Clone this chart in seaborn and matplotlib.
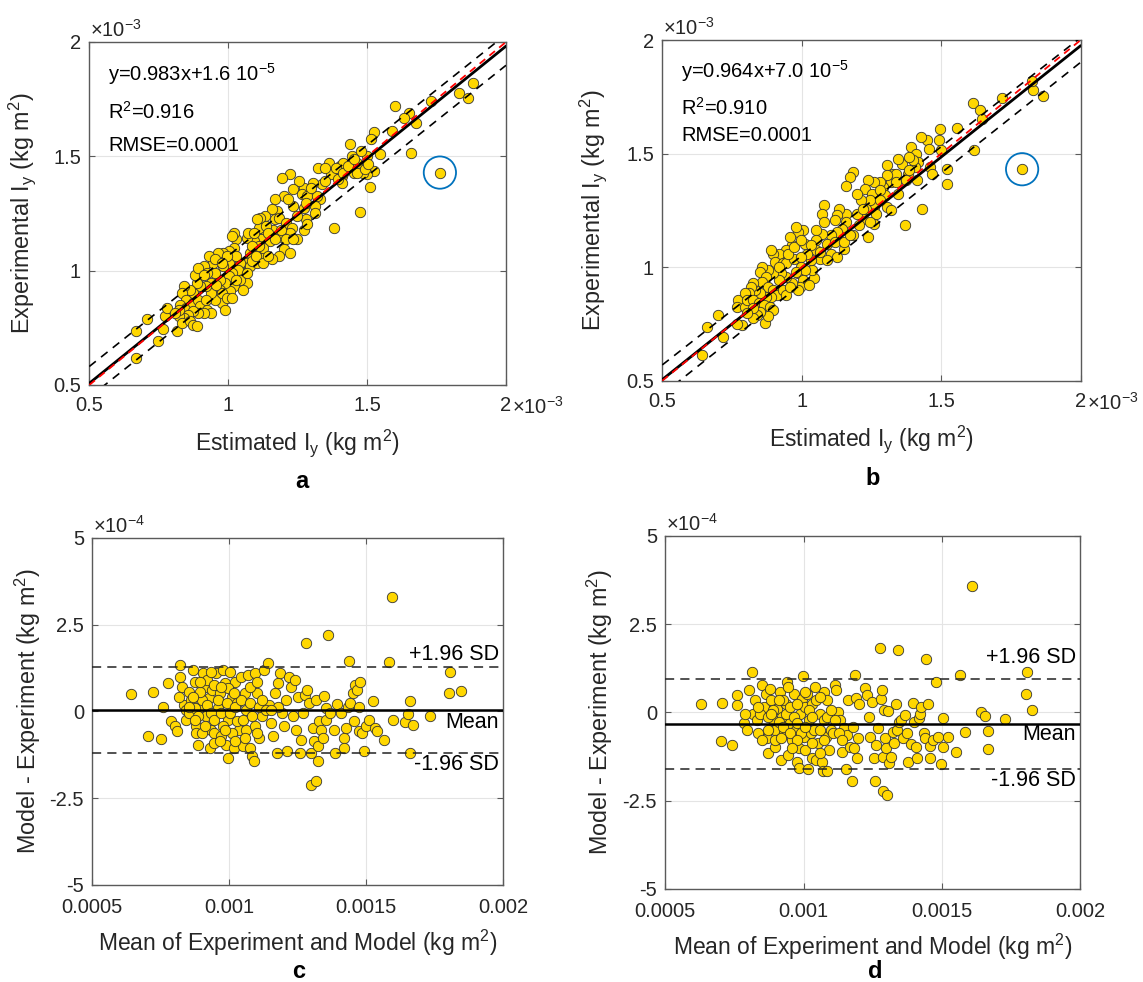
import numpy as np
import pandas as pd
import matplotlib
matplotlib.use("Agg")
import matplotlib.pyplot as plt
import seaborn as sns

sns.set_theme(style="white")
plt.rcParams["font.family"] = ["Liberation Sans", "DejaVu Sans"]
plt.rcParams["mathtext.fontset"] = "custom"
plt.rcParams["mathtext.rm"] = "Liberation Sans"
plt.rcParams["mathtext.it"] = "Liberation Sans:italic"
plt.rcParams["mathtext.bf"] = "Liberation Sans:bold"

# ---------------- data (units: 1e-3 kg m^2 for Iy, 1e-4 for differences) -------------
a_est = [0.667,0.667,0.709,0.748,0.764,0.773,0.779,0.815,1.880,1.832,
1.865,1.730,1.676,1.652,1.633,1.601,1.588,1.659,1.762,1.524,
1.545,1.513,1.524,1.511,1.498,1.476,1.498,1.440,1.446,1.465,
1.478,1.452,1.484,1.382,1.363,1.369,1.401,1.408,1.324,1.337,
1.350,1.408,1.414,1.330,1.311,1.305,1.273,1.254,1.221,1.195,
1.202,1.234,1.266,1.285,1.273,1.311,1.279,1.273,1.285,1.234,
1.215,1.176,1.157,1.170,1.182,1.208,1.228,1.247,1.247,1.221,
1.195,1.202,1.221,1.182,1.163,1.131,1.114,1.137,1.118,1.150,
1.111,1.157,1.131,1.105,1.124,1.092,1.067,1.079,1.067,1.054,
1.067,1.079,1.105,1.041,1.028,1.021,1.015,1.021,1.002,0.983,
0.964,1.002,0.983,1.028,1.034,1.015,1.002,1.041,1.021,1.008,
0.989,0.970,0.951,0.944,0.931,0.951,0.912,0.899,0.925,0.938,
0.970,0.964,0.977,0.951,0.938,0.919,0.899,0.886,0.880,0.893,
0.873,0.861,0.841,0.835,0.848,0.828,0.848,0.873,0.893,0.899,
0.919,0.925,0.938,0.912,0.893,0.873,0.854,0.841,0.822,0.835,
0.861,0.873,0.886,0.822,0.809,0.977,0.996,1.015,0.989,0.957,
0.912,0.996,0.977,1.028,1.054,1.067,1.086,1.099,1.124,1.144,
1.111,1.086,1.073,1.092,1.105,1.137,1.144,1.170,1.189,1.208,
1.234,1.170,1.279,1.318,1.298,1.350,1.395,1.388,1.414,1.433,
1.452,1.465,1.491,1.504]
a_exp = [0.738,0.617,0.788,0.692,0.744,0.803,0.837,0.734,1.821,1.778,
1.754,1.744,1.644,1.690,1.668,1.722,1.612,1.514,1.429,1.608,
1.510,1.576,1.437,1.366,1.503,1.258,1.422,1.554,1.502,1.473,
1.524,1.429,1.429,1.188,1.473,1.422,1.459,1.415,1.451,1.378,
1.393,1.385,1.473,1.312,1.283,1.385,1.363,1.393,1.422,1.407,
1.327,1.356,1.334,1.327,1.276,1.254,1.224,1.180,1.202,1.283,
1.312,1.261,1.268,1.224,1.232,1.210,1.188,1.137,1.239,1.166,
1.149,1.093,1.079,1.063,1.180,1.239,1.232,1.166,1.137,1.129,
1.188,1.049,1.063,1.093,1.100,1.129,1.144,1.078,1.034,0.990,
0.946,1.020,1.034,1.034,1.137,1.166,1.151,1.100,1.085,1.078,
1.078,1.034,1.020,1.063,1.005,0.990,0.976,0.961,0.932,0.910,
0.946,0.961,0.990,1.034,1.063,1.049,1.020,0.976,0.990,0.946,
0.917,0.888,0.859,0.873,0.902,0.932,0.932,0.946,0.983,1.012,
0.902,0.917,0.932,0.902,0.873,0.851,0.837,0.859,0.873,0.844,
0.873,0.829,0.815,0.815,0.815,0.822,0.808,0.793,0.800,0.771,
0.778,0.763,0.756,0.829,0.815,0.902,0.880,0.880,0.829,0.939,
0.983,1.063,1.034,0.961,0.917,0.990,1.041,1.063,1.034,1.063,
1.107,1.107,1.166,1.166,1.224,1.195,1.166,1.137,1.180,1.137,
1.137,1.312,1.297,1.327,1.363,1.451,1.400,1.451,1.429,1.459,
1.488,1.429,1.444,1.466]

b_est = [0.642,0.662,0.698,0.718,0.771,0.769,0.785,0.767,0.798,0.869,
1.866,1.830,1.826,1.719,1.613,1.639,1.646,1.619,1.556,1.790,
1.495,1.493,1.500,1.522,1.519,1.432,1.370,1.459,1.448,1.455,
1.426,1.392,1.409,1.418,1.406,1.412,1.382,1.359,1.345,1.346,
1.319,1.305,1.326,1.339,1.305,1.292,1.305,1.319,1.299,1.279,
1.259,1.239,1.225,1.252,1.259,1.265,1.245,1.212,1.199,1.185,
1.172,1.158,1.232,1.219,1.205,1.239,1.259,1.245,1.185,1.152,
1.158,1.158,1.132,1.125,1.118,1.145,1.125,1.105,1.105,1.092,
1.078,1.074,1.078,1.072,1.052,1.052,1.052,1.065,1.045,1.038,
1.032,1.018,1.012,1.005,0.985,0.965,0.958,0.945,0.931,0.918,
0.898,0.891,0.905,0.931,0.945,0.971,0.998,0.998,0.985,1.012,
1.005,0.992,0.985,0.965,0.945,0.925,0.918,0.898,0.878,0.858,
0.851,0.871,0.858,0.878,0.898,0.911,0.891,0.871,0.851,0.831,
0.825,0.818,0.811,0.798,0.805,0.825,0.845,0.865,0.885,0.898,
0.878,0.851,0.838,0.825,0.825,0.805,0.931,0.945,0.958,0.978,
1.025,0.951,0.971,0.918,0.978,0.998,1.032,1.092,1.125,1.065,
1.118,1.152,1.172,1.199,1.219,1.279,1.279,1.339,1.372,1.385,
1.399,1.385,1.466]
b_exp = [0.614,0.738,0.790,0.692,0.856,0.826,0.746,0.750,0.826,0.756,
1.753,1.780,1.821,1.745,1.723,1.690,1.653,1.514,1.614,1.431,
1.608,1.558,1.514,1.434,1.368,1.258,1.185,1.441,1.558,1.521,
1.573,1.529,1.500,1.463,1.441,1.382,1.412,1.456,1.478,1.324,
1.375,1.448,1.412,1.412,1.404,1.353,1.265,1.251,1.317,1.375,
1.375,1.382,1.346,1.324,1.265,1.236,1.295,1.295,1.324,1.419,
1.397,1.356,1.258,1.214,1.185,1.134,1.192,1.199,1.141,1.082,
1.236,1.199,1.258,1.229,1.207,1.170,1.156,1.141,1.060,1.104,
1.273,1.236,1.199,1.148,1.163,1.119,1.075,1.038,0.951,0.987,
1.031,1.060,1.104,1.163,1.156,1.097,1.134,1.075,1.046,1.060,
1.060,1.075,1.024,1.016,1.016,1.038,1.046,1.002,0.973,0.987,
0.943,0.914,0.899,0.929,0.958,0.973,0.943,0.973,0.987,1.002,
0.980,0.958,0.936,0.914,0.899,0.878,0.870,0.870,0.885,0.899,
0.929,0.914,0.885,0.885,0.856,0.856,0.841,0.834,0.826,0.812,
0.783,0.804,0.790,0.775,0.819,0.797,0.899,0.878,0.914,0.980,
0.921,1.060,1.090,1.002,1.178,1.119,1.097,1.031,1.046,1.068,
1.112,1.112,1.141,1.236,1.258,1.295,1.339,1.375,1.382,1.426,
1.470,1.485,1.412]

c_mean_val = [0.642,0.721,0.704,0.750,0.757,0.776,0.786,0.802,0.809,0.822,
0.819,0.828,0.835,0.841,0.854,0.861,0.867,0.874,0.878,0.880,
0.887,0.893,0.906,0.913,0.917,0.926,0.930,0.932,0.939,0.945,
0.952,0.958,0.965,0.971,0.978,0.984,0.987,0.995,0.997,1.004,
1.010,1.017,1.023,1.030,1.036,1.043,1.049,1.056,1.062,1.069,
1.075,1.082,1.089,1.095,1.102,1.108,1.121,1.128,1.141,1.147,
1.154,1.160,1.167,1.173,1.180,1.186,1.193,1.199,1.206,1.212,
1.219,1.225,1.232,1.240,1.245,1.251,1.258,1.264,1.271,1.277,
1.281,1.284,1.290,1.297,1.299,1.307,1.310,1.316,1.316,1.323,
1.323,1.329,1.336,1.342,1.346,1.355,1.362,1.355,1.368,1.381,
1.388,1.395,1.408,1.421,1.421,1.427,1.434,1.438,1.440,1.453,
1.457,1.460,1.466,1.473,1.473,1.479,1.486,1.492,1.499,1.512,
1.525,1.531,1.538,1.564,1.583,1.594,1.599,1.642,1.652,1.659,
1.659,1.671,1.733,1.802,1.807,1.846,
0.815,0.841,0.854,0.874,0.887,0.900,0.919,0.932,0.945,0.958,
0.971,0.978,0.991,1.004,1.010,1.023,1.030,1.043,1.049,1.062,
1.075,1.082,1.095,1.108,1.121,1.134,0.919,0.945,0.997,1.017,
1.075,1.102,0.893,0.867,0.945,0.965,1.023,1.056,0.984,0.900,
0.913,0.874,1.102,1.180,1.154,0.854,0.893,0.932,0.971]
c_diff = [0.502,0.569,-0.703,-0.799,0.139,0.809,-0.292,-0.435,-0.579,1.335,
0.999,0.713,0.187,-0.244,0.569,0.330,1.191,0.856,-0.435,-0.627,
-0.962,0.139,1.096,0.713,-0.148,0.378,-1.057,-0.531,0.617,-0.627,
1.096,0.091,0.521,-0.723,1.191,0.809,-0.962,-1.345,-0.244,1.143,
0.426,-1.057,0.856,0.235,-0.531,0.999,-1.010,0.521,0.043,1.047,
-1.057,-1.296,-1.440,1.096,0.521,-0.771,-0.148,1.191,1.383,0.187,
-0.340,-0.723,0.521,-1.201,0.809,1.096,-0.053,-0.435,0.330,-1.153,
0.999,0.713,-0.148,0.904,-0.531,0.426,-1.201,-0.818,-0.053,0.474,
1.957,0.617,0.235,-1.201,-2.110,-0.483,-0.866,-2.014,0.330,-1.010,
-1.440,-0.292,-0.531,-0.771,0.455,-0.244,2.196,0.091,-0.053,-0.531,
-1.201,0.215,-0.053,-0.771,-1.057,-0.483,0.139,1.459,0.235,0.521,
-0.292,0.761,0.617,-0.579,0.139,0.856,-0.627,-1.153,-0.435,-0.244,
0.311,-0.483,-0.579,-0.837,1.431,3.297,-0.244,-0.320,-0.081,0.311,
-1.201,-0.387,-0.148,0.541,1.143,0.598,
0.426,0.043,-0.053,0.091,-0.148,0.330,0.187,-0.053,-0.244,0.330,
-0.053,-0.435,0.235,-0.053,-0.627,0.139,-0.292,0.330,-0.244,-0.531,
0.235,-0.148,-0.435,0.139,0.330,0.043,0.904,0.761,0.665,0.521,
0.713,0.856,0.569,0.426,-0.914,-0.866,-0.866,-0.771,-0.531,-0.627,
-0.435,-0.244,-0.627,0.139,0.043,0.139,0.856,1.143,0.713]

d_mean_val = [0.628,0.705,0.700,0.743,0.760,0.759,0.786,0.796,0.803,0.813,
0.817,0.823,0.830,0.837,0.850,0.857,0.864,0.868,0.873,0.877,
0.884,0.891,0.895,0.898,0.904,0.914,0.918,0.922,0.929,0.935,
0.941,0.945,0.951,0.958,0.965,0.972,0.978,0.982,0.985,0.989,
0.995,0.999,1.003,1.005,1.012,1.015,1.019,1.026,1.030,1.032,
1.039,1.043,1.046,1.053,1.059,1.066,1.070,1.073,1.075,1.080,
1.084,1.086,1.093,1.100,1.106,1.113,1.116,1.120,1.124,1.133,
1.140,1.147,1.154,1.158,1.162,1.167,1.174,1.178,1.181,1.187,
1.191,1.194,1.198,1.201,1.221,1.228,1.235,1.239,1.248,1.255,
1.257,1.261,1.268,1.275,1.282,1.284,1.286,1.288,1.291,1.295,
1.299,1.302,1.306,1.309,1.315,1.322,1.326,1.336,1.339,1.342,
1.345,1.353,1.358,1.367,1.376,1.379,1.389,1.396,1.400,1.406,
1.410,1.416,1.420,1.426,1.434,1.439,1.443,1.450,1.457,1.457,
1.470,1.480,1.488,1.497,1.504,1.504,1.524,1.551,1.565,1.585,
1.609,1.643,1.656,1.666,1.668,1.730,1.803,1.810,1.825,
0.790,0.844,0.871,0.891,0.911,0.925,0.938,0.951,0.965,0.978,
0.992,1.005,1.019,1.032,1.046,1.059,1.073,1.086,1.100,0.925,
0.951,0.871,0.850,0.898,0.978,1.005,1.032,1.059,0.958,0.918,
0.837,0.945,0.978,1.005,1.059,1.113,1.127,1.140,0.884,0.911]
d_diff = [0.249,0.268,-0.804,-0.936,0.484,0.202,-0.296,-0.503,0.625,1.134,
-0.033,0.343,-0.221,-0.597,0.785,0.155,0.531,-0.738,-1.162,0.672,
0.343,-0.221,-0.973,-0.503,0.108,0.578,-1.350,-0.127,-0.597,0.249,
0.861,-1.209,-0.315,-0.785,0.531,-0.503,-1.397,-1.585,-1.021,-0.033,
0.390,1.021,-0.691,0.155,0.531,-1.613,-0.221,-0.597,-1.303,0.230,
-0.503,0.719,-1.350,-0.879,-0.033,-1.397,-1.650,0.578,-0.221,-0.691,
0.343,-1.650,-1.068,-0.503,-0.597,0.766,0.644,-0.033,0.014,-0.221,
-1.115,-0.456,-1.613,-0.644,0.362,-0.973,-1.933,-0.409,-1.021,1.049,
0.418,-1.303,-0.738,0.230,0.700,0.484,-0.127,-0.710,0.296,-1.303,
-1.933,-0.927,-0.456,1.830,0.390,0.644,-2.215,-1.274,0.061,-0.738,
-1.021,-2.338,0.042,-1.425,-1.256,-0.550,-0.879,0.230,-0.503,1.754,
-0.268,-0.221,-0.738,-0.080,-0.597,-1.397,-0.898,0.268,-0.268,-0.973,
-1.303,-0.174,-0.033,0.155,-0.597,-0.738,1.519,0.230,-1.303,-0.955,
-0.785,0.861,-0.710,-1.463,-0.155,-0.992,-0.710,-1.133,1.049,-0.550,
3.589,0.005,-0.108,-0.522,-1.049,-0.202,0.513,1.143,0.080,
-0.033,-0.033,-0.127,0.061,-0.268,-0.409,-0.033,-0.597,-0.127,-0.315,
-0.597,-0.409,0.061,-0.127,0.343,-0.503,-0.785,-0.127,0.061,0.343,
0.155,-0.503,-0.785,-0.785,-0.785,-1.068,-0.879,-1.162,-1.021,-0.738,
0.155,0.719,0.249,0.578,0.437,-0.221,-0.597,-0.785,-0.033,0.343]

# flagged (circled) outliers
a_flag = [1.762, 1.429]
b_flag = [1.790, 1.431]

# drawn regression / band lines: (slope, intercept)
a_fit = [0.983, 0.016]
a_band_up = [0.968, 0.097]
a_band_lo = [0.968, -0.038]
b_fit = [0.980, 0.015]
b_band_up = [0.961, 0.089]
b_band_lo = [0.975, -0.048]

# Bland-Altman lines (1e-4)
c_lines = {"mean": 0.035, "upper": 1.27, "lower": -1.20}
d_lines = {"mean": -0.335, "upper": 0.935, "lower": -1.61}

a_text = ["y=0.983x+1.6 10$^{-5}$", "R$^{2}$=0.916", "RMSE=0.0001"]
b_text = ["y=0.964x+7.0 10$^{-5}$", "R$^{2}$=0.910", "RMSE=0.0001"]

iy_ticks = [0.5, 1.0, 1.5, 2.0]
iy_labels = ["0.5", "1", "1.5", "2"]
ba_x_labels = ["0.0005", "0.001", "0.0015", "0.002"]
ba_y_ticks = [-5, -2.5, 0, 2.5, 5]
ba_y_labels = ["-5", "-2.5", "0", "2.5", "5"]

# ---------------------------------------------------------------------------
GOLD = "#FFD700"
EDGE = "#333333"
AXC = "#5a5a5a"
TXT = "#262626"
W, H = 1143, 982

fig = plt.figure(figsize=(W / 100, H / 100), dpi=100)


def add_ax(l, r, t, b):
    return fig.add_axes([l / W, 1 - b / H, (r - l) / W, (b - t) / H])


ax_a = add_ax(89.3, 506, 42, 385)
ax_b = add_ax(662.3, 1080.7, 40, 380.7)
ax_c = add_ax(92.3, 503, 537.7, 885)
ax_d = add_ax(665.3, 1080, 535.7, 889)


def style(ax, xticks, xlabels, yticks, ylabels, mult, xmult, xpad):
    ax.set_xlim(xticks[0], xticks[-1])
    ax.set_ylim(yticks[0], yticks[-1])
    ax.set_xticks(xticks)
    ax.set_xticklabels(xlabels)
    ax.set_yticks(yticks)
    ax.set_yticklabels(ylabels)
    ax.grid(True, color="#e4e4e4", lw=0.8)
    ax.set_axisbelow(True)
    for s in ax.spines.values():
        s.set_visible(True)
        s.set_color(AXC)
        s.set_linewidth(1.0)
    ax.tick_params(axis="both", which="both", direction="in", length=4, width=0.8,
                   bottom=True, left=True, top=True, right=True,
                   labeltop=False, labelright=False,
                   color=AXC, labelcolor=TXT, labelsize=14.5, pad=6)
    ax.tick_params(axis="x", pad=xpad)
    ax.annotate(mult, xy=(0, 1), xycoords="axes fraction", xytext=(1, 12),
                textcoords="offset pixels", ha="left", va="center",
                fontsize=14.5, color=TXT)
    if xmult:
        ax.annotate(xmult, xy=(1, 0), xycoords="axes fraction", xytext=(6, -22),
                    textcoords="offset pixels", ha="left", va="center",
                    fontsize=14.5, color=TXT)


def iy_panel(ax, est, exp, fit, up, lo, flag, texts, text_y, ylab_x):
    df = pd.DataFrame({"est": est, "exp": exp})
    sns.scatterplot(data=df, x="est", y="exp", ax=ax, s=56, color=GOLD,
                    edgecolor=EDGE, linewidth=0.6, zorder=3, legend=False)
    xs = np.array([0.5, 2.0])
    ax.plot(xs, fit[0] * xs + fit[1], color="black", lw=2.0, zorder=4)
    ax.plot(xs, xs, color="red", lw=1.3, ls=(0, (4, 3)), zorder=4)
    ax.plot(xs, up[0] * xs + up[1], color="black", lw=1.2, ls=(0, (5, 4)), zorder=4)
    ax.plot(xs, lo[0] * xs + lo[1], color="black", lw=1.2, ls=(0, (5, 4)), zorder=4)
    ax.scatter([flag[0]], [flag[1]], s=540, facecolors="none",
               edgecolors="#0072BD", linewidths=1.3, zorder=5)
    for t, yy in zip(texts, text_y):
        ax.text(0.045, yy, t, transform=ax.transAxes, fontsize=14.5,
                ha="left", va="center", color="black")
    style(ax, iy_ticks, iy_labels, iy_ticks, iy_labels,
          "×10$^{-3}$", "×10$^{-3}$", 8)
    ax.set_xlabel("Estimated I$_{\\mathrm{y}}$ (kg m$^{2}$)", fontsize=16.5, color=TXT)
    ax.set_ylabel("Experimental I$_{\\mathrm{y}}$ (kg m$^{2}$)", fontsize=16.8, color=TXT)
    ax.xaxis.set_label_coords(0.5, -0.125)
    ax.yaxis.set_label_coords(ylab_x, 0.5)


def ba_panel(ax, mx, dy, lines, text_y, ylab_x):
    df = pd.DataFrame({"m": mx, "d": dy})
    sns.scatterplot(data=df, x="m", y="d", ax=ax, s=56, color=GOLD,
                    edgecolor=EDGE, linewidth=0.6, zorder=3, legend=False)
    ax.axhline(lines["mean"], color="black", lw=1.8, zorder=4)
    ax.axhline(lines["upper"], color="#222222", lw=1.1, ls=(0, (6, 4)), zorder=4)
    ax.axhline(lines["lower"], color="#222222", lw=1.1, ls=(0, (6, 4)), zorder=4)
    tr = ax.get_yaxis_transform()
    for t, yy in zip(["+1.96 SD", "Mean", "-1.96 SD"], text_y):
        ax.text(0.99, yy, t, transform=tr, ha="right", va="center",
                fontsize=15.5, color="black")
    style(ax, iy_ticks, ba_x_labels, ba_y_ticks, ba_y_labels, "×10$^{-4}$", None, 9.5)
    ax.set_xlabel("Mean of Experiment and Model (kg m$^{2}$)", fontsize=16.5, color=TXT)
    ax.set_ylabel("Model - Experiment (kg m$^{2}$)", fontsize=16.8, color=TXT)
    ax.xaxis.set_label_coords(0.5, -0.122)
    ax.yaxis.set_label_coords(ylab_x, 0.5)


iy_panel(ax_a, a_est, a_exp, a_fit, a_band_up, a_band_lo, a_flag, a_text,
         [0.907, 0.796, 0.697], -0.123)
iy_panel(ax_b, b_est, b_exp, b_fit, b_band_up, b_band_lo, b_flag, b_text,
         [0.910, 0.801, 0.720], -0.127)
ba_panel(ax_c, c_mean_val, c_diff, c_lines, [1.65, -0.32, -1.54], -0.119)
ba_panel(ax_d, d_mean_val, d_diff, d_lines, [1.55, -0.62, -1.93], -0.122)

for lab, x, y in [("a", 302, 482), ("b", 873, 478), ("c", 299, 972), ("d", 875, 972)]:
    fig.text(x / W, 1 - y / H, lab, ha="center", va="center",
             fontsize=17, fontweight="bold", color="black")

fig.savefig("out.png", dpi=100, facecolor="white")
